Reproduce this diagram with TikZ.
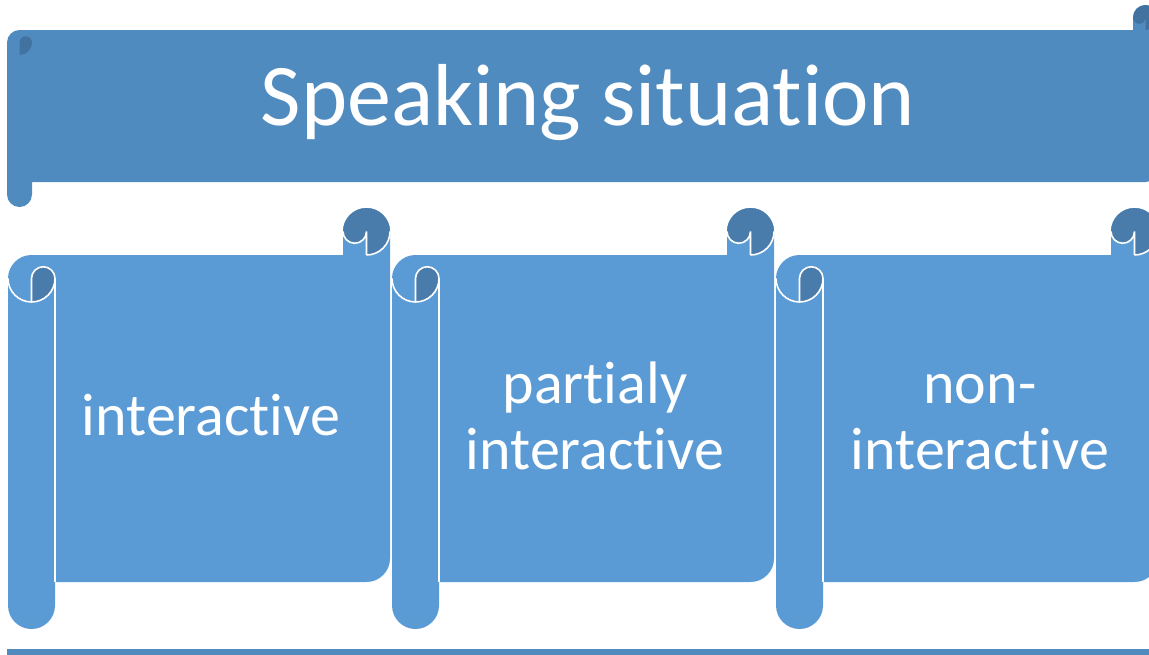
\documentclass[tikz,border=0pt]{standalone}
\usepackage{fontspec}
\setmainfont{Carlito}[Ligatures=NoCommon]
\usepackage{tikz}

\definecolor{bannerblue}{RGB}{80,139,192}
\definecolor{bannerdark}{RGB}{66,114,160}
\definecolor{scrollblue}{RGB}{91,155,213}
\definecolor{scrolldark}{RGB}{73,124,171}

\newcommand{\hscroll}[6]{%
\begin{scope}[shift={(#1,#2)}]
\pgfmathsetmacro{\sr}{#3-#1}
\pgfmathsetmacro{\sb}{#4-#2}
\pgfmathsetmacro{\ra}{#5}
\pgfmathsetmacro{\rb}{#5/2}
\pgfmathsetmacro{\rc}{#5/4}
\fill[#6 fill] (0,\ra+\rb) arc[start angle=180,delta angle=90,radius=\rb] -- (\sr-\ra,\ra) -- (\sr-\ra,\rb)
  arc[start angle=180,delta angle=180,radius=\rb] -- (\sr,\sb-\ra-\rb) arc[start angle=0,delta angle=90,radius=\rb]
  -- (\ra,\sb-\ra) -- (\ra,\sb-\rb) arc[start angle=0,delta angle=180,radius=\rb] -- cycle;
\fill[#6 dark] (\rb,2*\ra) arc[start angle=90,delta angle=-90,radius=\rb] arc[start angle=0,delta angle=-180,radius=\rc] -- cycle
  (\sr-\rb,\ra) arc[start angle=90,delta angle=-270,radius=\rb] arc[start angle=180,delta angle=-180,radius=\rc] -- cycle;
\draw[#6 line] (\sr-\rb,\ra) arc[start angle=90,delta angle=-90,radius=\rb]
  (\sr-\rb,\ra) -- (\sr-\rb,\rb) arc[start angle=0,delta angle=180,radius=\rc]
  (\rb,2*\ra) -- (\rb,\ra+\rb) arc[start angle=180,delta angle=180,radius=\rc] arc[start angle=0,delta angle=180,radius=\rb]
  (\ra,\ra+\rb) -- (\ra,\sb-\ra);
\end{scope}}

\begin{document}
\begin{tikzpicture}[x=1pt, y=-1pt,
  banner fill/.style={fill=bannerblue},
  banner dark/.style={fill=bannerdark},
  banner line/.style={draw=none},
  scroll fill/.style={fill=scrollblue},
  scroll dark/.style={fill=scrolldark},
  scroll line/.style={draw=white, line width=1.6pt},
  title text/.style={text=white, anchor=base, inner sep=0pt, font=\fontsize{88}{100}\selectfont},
  item text/.style={text=white, anchor=base, align=center, inner sep=0pt, font=\fontsize{60}{66}\selectfont}]
\useasboundingbox (0,0) rectangle (1149,654);
\clip (0,0) rectangle (1149,654);
\hscroll{7}{5}{1158}{207}{25}{banner}
\hscroll{8}{208}{390}{629}{47}{scroll}
\hscroll{392}{208}{774}{629}{47}{scroll}
\hscroll{776}{208}{1158}{629}{47}{scroll}
\fill[bannerblue] (7,649) rectangle (1149,660);
\node[title text] (title) at (588,125) {Speaking situation};
\node[item text] (inter) at (211,435) {interactive};
\node[item text] (partial) at (595,469) {partialy\\interactive};
\node[item text] (noninter) at (980,469) {non-\\interactive};
\end{tikzpicture}
\end{document}
